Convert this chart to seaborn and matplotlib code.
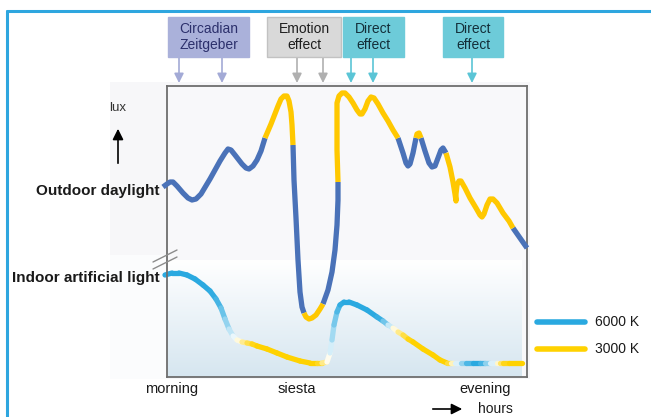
import numpy as np
import pandas as pd
import matplotlib
matplotlib.use("Agg")
import matplotlib.pyplot as plt
import seaborn as sns
from matplotlib.collections import LineCollection
from matplotlib.colors import LinearSegmentedColormap, Normalize
from matplotlib.patches import Rectangle
from matplotlib.lines import Line2D

# --- data (relative time units / relative lux) ---
out_t = [-4, 0, 3, 6, 10, 16, 21, 25, 29, 34, 43, 53, 58, 61, 64, 68, 75, 79, 82, 86, 90, 94,
         98, 104, 111, 114, 117, 120, 122, 124, 125,
         126, 127, 129, 131, 133, 135,
         137, 139, 142, 145, 149, 153,
         156, 161, 165, 168, 170, 171,
         171, 170, 170, 170, 172, 175, 178, 182, 186, 190, 193, 195, 198, 201, 204, 207,
         211, 216, 221, 226,
         231, 236, 239, 241, 243, 246,
         249, 250, 252,
         254, 258, 262, 265, 268, 271, 274, 276,
         279, 283, 286, 288, 289, 289, 290, 292, 294, 298, 303, 309, 313, 315, 317, 320,
         323, 326, 330, 336, 342,
         346, 353, 360]
out_lux = [190, 193, 195, 195, 191, 184, 179, 177, 178, 183, 198, 216, 224, 228, 227, 222,
           213, 209, 208, 211, 217, 226,
           239, 253, 271, 278, 281, 281, 276, 265, 252,
           232, 197, 159, 117, 85, 70,
           64, 60, 58, 59, 62, 68,
           73, 87, 105, 127, 152, 177,
           195, 227, 259, 274, 281, 284, 284, 280, 274, 267, 263, 263, 268, 276, 280, 279,
           273, 264, 256, 247,
           239, 224, 214, 211, 213, 224,
           239, 243, 244,
           239, 226, 214, 210, 211, 219, 227, 229,
           224, 210, 195, 183, 176, 183, 192, 196, 196, 189, 179, 169, 162, 160, 163, 172,
           178, 178, 174, 164, 156,
           149, 139, 129]
out_tone = (["cool"] * 22 + ["warm"] * 9 + ["cool"] * 6 + ["warm"] * 6 + ["cool"] * 6
            + ["warm"] * 20 + ["cool"] * 6 + ["warm"] * 3 + ["cool"] * 8
            + ["warm"] * 21 + ["cool"] * 3)
assert len(out_t) == len(out_lux) == len(out_tone)

in_t = [-2, 5, 12, 20, 28, 36, 43, 49, 54, 58, 62, 66, 70, 75, 80, 85, 90, 100, 110, 120,
        133, 143, 150, 155, 160, 163, 165, 167, 170, 173, 177, 182, 190, 200, 210, 216,
        221, 226, 231, 236, 241, 246, 256, 266, 273, 280, 284, 288, 294, 299, 306, 313,
        318, 323, 330, 333, 336, 342, 355]
in_lux = [102, 104, 104, 102, 98, 92, 86, 78, 69, 58, 48, 41, 37, 35, 34, 33, 31, 28, 24,
          20, 16, 14, 14, 14, 15, 24, 37, 52, 65, 72, 75, 75, 72, 67, 60, 56, 52, 49, 45,
          42, 38, 35, 28, 22, 17, 14, 14, 14, 14, 14, 14, 14, 14, 14, 14, 14, 14, 14, 14]
in_cct = [6000, 6000, 6000, 6000, 6000, 6000, 6000, 5900, 5700, 5400, 5100, 4800, 4500,
          4100, 3600, 3300, 3000, 3000, 3000, 3000, 3000, 3000, 3000, 3400, 4200, 4600,
          5000, 5300, 5600, 5900, 6000, 6000, 6000, 6000, 6000, 5800, 5200, 4600, 4000,
          3600, 3200, 3000, 3000, 3000, 3000, 3000, 3700, 4500, 5000, 5500, 6000, 6000,
          5600, 5000, 4500, 3900, 3300, 3000, 3000]
assert len(in_t) == len(in_lux) == len(in_cct)

legend_cct = [6000, 3000]
legend_labels = ["6000 K", "3000 K"]

time_labels = ["morning", "siesta", "evening"]
time_pos = [5, 130, 318]

effect_labels = ["Circadian\nZeitgeber", "Emotion\neffect", "Direct\neffect", "Direct\neffect"]
effect_times = [[12, 55], [130, 156], [184, 206], [305]]

# --- style ---
sns.set_theme(style="white")
plt.rcParams["font.family"] = ["Liberation Sans", "DejaVu Sans"]

W, H = 651, 417


def fp(x, y):
    return x / W, 1 - y / H


fig = plt.figure(figsize=(W / 100, H / 100), dpi=100)
fig.patch.set_facecolor("white")

# outer frame and light panel
fig.add_artist(Line2D([7 / W, 1], [1 - 11 / H] * 2, color="#2ea6df", lw=2.2))
fig.add_artist(Line2D([7 / W] * 2, [0, 1 - 11 / H], color="#2ea6df", lw=2.2))
fig.add_artist(Rectangle(fp(110, 379), 420 / W, 297 / H, facecolor="#f7f7f9",
                         edgecolor="none", zorder=-2))
fig.add_artist(Rectangle(fp(110, 379), 57 / W, 124 / H, facecolor="#fbfcfd",
                         edgecolor="none", zorder=-1))

ax = fig.add_axes([167 / W, 40 / H, 360 / W, 291 / H])
ax.set_facecolor("#f8f8fa")
for s in ax.spines.values():
    s.set_color("#6e6e6e")
    s.set_linewidth(1.3)

# lower gradient (indoor zone)
bg_cmap = LinearSegmentedColormap.from_list("bg", ["#ffffff", "#d6e6f0"])
ax.imshow(np.linspace(0, 1, 200).reshape(-1, 1), cmap=bg_cmap, extent=[0, 355, 0, 117],
          aspect="auto", zorder=0)

# outdoor daylight curve, split into cool / warm pieces
rows = []
piece = 0
for i in range(len(out_t) - 1):
    if i == 0 or out_tone[i] != out_tone[i - 1]:
        if i > 0:
            piece += 1
        rows.append(dict(piece=piece, t=out_t[i], lux=out_lux[i], tone=out_tone[i]))
    rows.append(dict(piece=piece, t=out_t[i + 1], lux=out_lux[i + 1], tone=out_tone[i]))
df_out = pd.DataFrame(rows)

sns.lineplot(data=df_out, x="t", y="lux", hue="tone", units="piece", estimator=None,
             sort=False, palette={"cool": "#4a72b8", "warm": "#ffc800"}, lw=3.8,
             legend=False, ax=ax, solid_capstyle="butt", solid_joinstyle="round",
             zorder=3, clip_on=False)

# indoor artificial light curve, coloured by colour temperature
cct_cmap = LinearSegmentedColormap.from_list(
    "cct", [(0, "#ffd200"), (0.5, "#ffffff"), (1, "#2aa9e0")])
cct_norm = Normalize(3000, 6000)
pts = np.column_stack([in_t, in_lux])
segs = np.stack([pts[:-1], pts[1:]], axis=1)
seg_cct = [(a + b) / 2 for a, b in zip(in_cct[:-1], in_cct[1:])]
lc = LineCollection(segs, colors=cct_cmap(cct_norm(seg_cct)), linewidths=3.8,
                    capstyle="round", joinstyle="round", zorder=2, clip_on=False)
ax.add_collection(lc)

ax.set_xlim(0, 360)
ax.set_ylim(0, 291)
ax.set_xticks([])
ax.set_yticks([])
ax.set_xlabel("")
ax.set_ylabel("")

# axis break marks
for dy in (0, 7):
    fig.add_artist(Line2D([153 / W, 177 / W], [1 - (262 + dy) / H, 1 - (250 + dy) / H],
                          color="#8c8c8c", lw=1))

# y-axis annotation
fig.text(*fp(118, 108), "lux", ha="center", va="center", fontsize=9.5, color="#333333")
ax.annotate("", xy=fp(118, 126), xytext=fp(118, 166), xycoords="figure fraction",
            textcoords="figure fraction",
            arrowprops=dict(arrowstyle="-|>", color="black", lw=1.2, mutation_scale=16))
fig.text(*fp(160, 191), "Outdoor daylight", ha="right", va="center", fontsize=11,
         fontweight="bold", color="#1a1a1a")
fig.text(*fp(160, 278), "Indoor artificial light", ha="right", va="center", fontsize=11,
         fontweight="bold", color="#1a1a1a")

# x-axis annotation
for lab, t in zip(time_labels, time_pos):
    fig.text((167 + t) / W, 1 - 389 / H, lab, ha="center", va="center", fontsize=10.5,
             color="#1a1a1a")
ax.annotate("", xy=fp(465, 409), xytext=fp(430, 409), xycoords="figure fraction",
            textcoords="figure fraction",
            arrowprops=dict(arrowstyle="-|>", color="black", lw=1.2, mutation_scale=16))
fig.text(*fp(478, 409), "hours", ha="left", va="center", fontsize=10, color="#1a1a1a")

# effect boxes with arrows
box_x = [(168, 249), (267, 341), (343, 404), (443, 503)]
box_face = ["#aab1da", "#d9d9d9", "#6dcbd9", "#6dcbd9"]
box_edge = ["#aab1da", "#c2c2c2", "#6dcbd9", "#6dcbd9"]
box_text = ["#2c306c", "#1e1e1e", "#142f3a", "#142f3a"]
arrow_col = ["#a3aad6", "#b0b0b0", "#5bc5d6", "#5bc5d6"]
for lab, times, (x0, x1), fc, ec, tc, ac in zip(effect_labels, effect_times, box_x,
                                               box_face, box_edge, box_text, arrow_col):
    fig.add_artist(Rectangle(fp(x0, 57), (x1 - x0) / W, 40 / H, facecolor=fc,
                             edgecolor=ec, lw=1))
    fig.text(*fp((x0 + x1) / 2, 37), lab, ha="center", va="center", fontsize=10,
             color=tc, linespacing=1.12)
    for t in times:
        ax.annotate("", xy=(t, 294), xytext=(t, 320), xycoords="data",
                    annotation_clip=False,
                    arrowprops=dict(arrowstyle="-|>", color=ac, lw=1.2,
                                    mutation_scale=14, shrinkA=0, shrinkB=0))

# legend
for cct, lab, y in zip(legend_cct, legend_labels, (322, 349)):
    fig.add_artist(Line2D([537 / W, 585 / W], [1 - y / H] * 2,
                          color=cct_cmap(cct_norm(cct)), lw=4))
    fig.text(*fp(595, y), lab, ha="left", va="center", fontsize=10, color="#1a1a1a")

plt.savefig("out.png", dpi=100)
